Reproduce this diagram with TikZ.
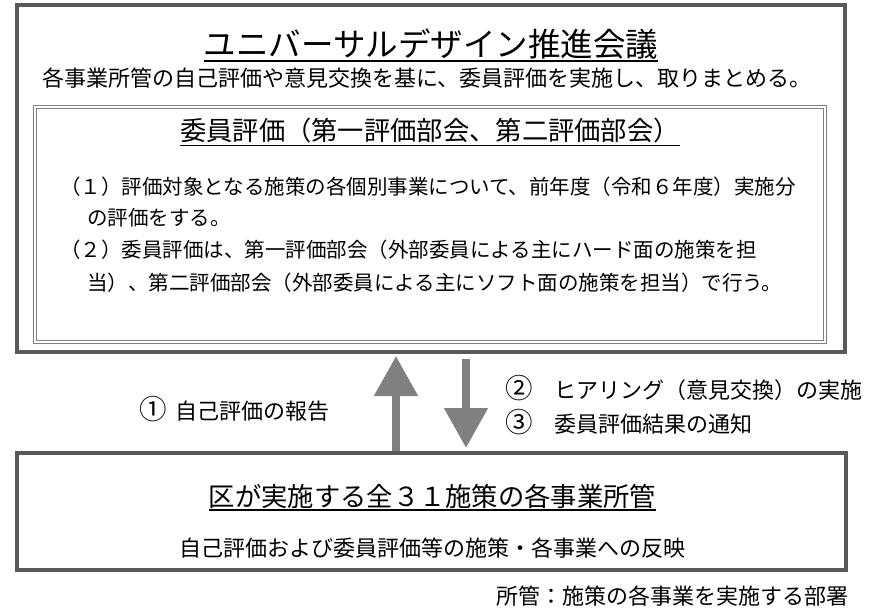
\documentclass[tikz,border=0pt]{standalone}
\usepackage{fontspec}
\setmainfont{Noto Sans CJK JP}
\usepackage{tikz}
\usetikzlibrary{positioning, arrows.meta}
\definecolor{grisfonce}{HTML}{595959}
\definecolor{gris}{HTML}{808080}
\tikzstyle{panel}=[rectangle, draw=grisfonce, line width=4pt, inner sep=0pt]
\tikzstyle{bloc}=[rectangle, draw=gris, double=white, double distance=1.5pt, line width=1pt, inner sep=0pt]
\tikzstyle{titre}=[inner sep=0pt, font=\fontsize{32.5}{38}\selectfont]
\tikzstyle{soustitre}=[inner sep=0pt, font=\fontsize{26.3}{31}\selectfont]
\tikzstyle{ligne}=[inner sep=0pt, font=\fontsize{22}{26}\selectfont]
\tikzstyle{texte}=[inner sep=0pt, anchor=west, font=\fontsize{20.5}{24}\selectfont]
\tikzstyle{trait}=[line width=1.6pt, black]
\tikzstyle{flux}=[line width=8pt, draw=gris, -{Triangle[width=42pt, length=40pt]}]

\begin{document}
\begin{tikzpicture}[x=1pt, y=-1pt]
  \useasboundingbox (0,0) rectangle (880,615);
  % Cadres
  \node[panel, minimum width=828pt, minimum height=347pt] (conseil) at (431,178.5) {};
  \node[bloc, minimum width=790pt, minimum height=235pt] (comite) at (430,224.5) {};
  \node[panel, minimum width=829pt, minimum height=117pt] (service) at (431.5,511.5) {};

  % Conseil
  \node[titre] (nom) at (431,44) {ユニバーサルデザイン推進会議};
  \draw[trait] ([yshift=-1.5pt]nom.south west) -- ([yshift=-1.5pt]nom.south east);
  \node[ligne] (role) at (427,78) {各事業所管の自己評価や意見交換を基に、委員評価を実施し、取りまとめる。};

  % Evaluation des membres
  \node[soustitre] (eval) at (430,131) {委員評価（第一評価部会、第二評価部会）};
  \draw[trait, line width=1.3pt] ([yshift=-1.5pt]eval.south west) -- ([yshift=-1.5pt]eval.south east);
  \node[texte] (pointA) at (60,187) {（１）評価対象となる施策の各個別事業について、前年度（令和６年度）実施分};
  \node[texte] (pointAb) at (87,218) {の評価をする。};
  \node[texte] (pointB) at (60,250) {（２）委員評価は、第一評価部会（外部委員による主にハード面の施策を担};
  \node[texte] (pointBb) at (87,283) {当）、第二評価部会（外部委員による主にソフト面の施策を担当）で行う。};

  % Fleches
  \draw[flux, shorten >=2pt] (service.north -| 396,0) -- (conseil.south -| 396,0);
  \draw[flux, shorten <=5pt, shorten >=3pt] (conseil.south -| 466,0) -- (service.north -| 466,0);
  \node[ligne, anchor=west] (rapport) at (139,409) {\scalebox{1.25}{①}\hspace{.4em}自己評価の報告};
  \node[ligne, anchor=west] (audition) at (505,388) {\scalebox{1.25}{②}　ヒアリング（意見交換）の実施};
  \node[ligne, anchor=west] (avis) at (505,422) {\scalebox{1.25}{③}　委員評価結果の通知};

  % Services
  \node[soustitre] (dept) at (432.5,496) {区が実施する全３１施策の各事業所管};
  \draw[trait, line width=1.3pt] ([yshift=-1.5pt]dept.south west) -- ([yshift=-1.5pt]dept.south east);
  \node[ligne] (reflet) at (432.5,548) {自己評価および委員評価等の施策・各事業への反映};
  \node[ligne, anchor=east] (note) at (849,596) {所管：施策の各事業を実施する部署};
\end{tikzpicture}
\end{document}
